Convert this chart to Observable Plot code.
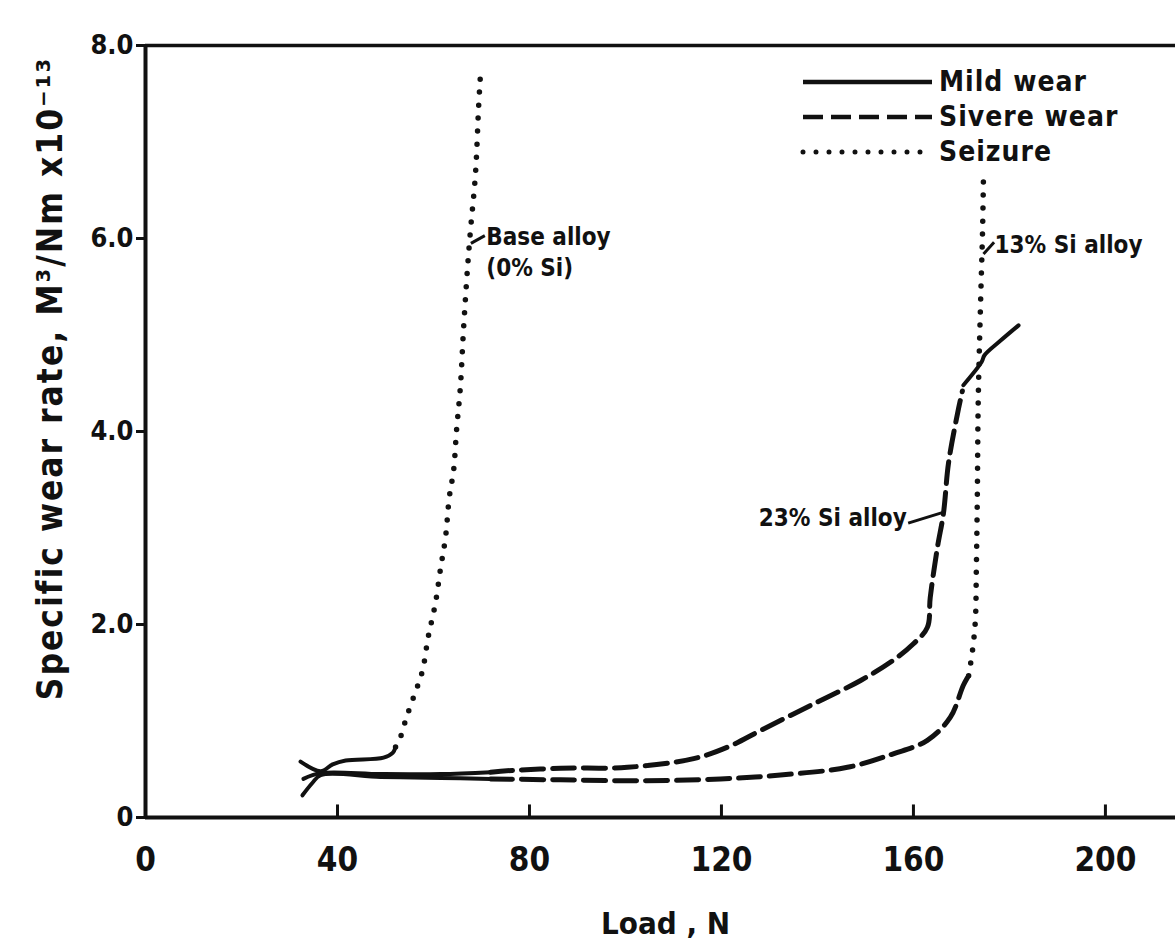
<!DOCTYPE html>
<html>
<head>
<meta charset="utf-8">
<script src="https://cdn.jsdelivr.net/npm/d3@7"></script>
<script src="https://cdn.jsdelivr.net/npm/@observablehq/plot@0.6"></script>
<style>
  html, body { margin: 0; padding: 0; background: #fff; }
  #wrap { position: relative; width: 1175px; height: 944px; }
  #legend { position: absolute; left: 800px; top: 64px; font-family: "DejaVu Sans Condensed", "DejaVu Sans", sans-serif; font-weight: bold; font-stretch: condensed; font-size: 28px; color: #111; letter-spacing: 1px; }
  #legend .row { display: flex; align-items: center; height: 35px; }
  #legend svg { margin-right: 4px; }
</style>
</head>
<body>
<div id="wrap"></div>
<script>
// ---- axis ticks ----
const xTicks = [0, 40, 80, 120, 160, 200];
const yTicks = [0, 2, 4, 6, 8];

// ---- Base alloy (0% Si) : [load N, wear rate x1e-13] ----
const baseMild = [[32.3,0.58],[36.5,0.48],[39.0,0.55],[41.7,0.59],[49.6,0.62],[51.5,0.67],[52.1,0.73]];
const baseSeizure = [[52.1,0.73],[53.1,0.83],[54.2,1.01],[55.8,1.24],[57.7,1.52],[58.9,1.87],[60.4,2.22],[61.5,2.59],[62.5,2.90],[63.3,3.32],[64.2,3.60],[64.8,4.01],[65.6,4.46],[66.25,5.05],[67.1,5.70],[67.7,6.08],[68.75,6.67],[69.4,7.36],[69.8,7.71]];

// ---- 23% Si alloy ----
const si23MildLow = [[32.9,0.40],[36.5,0.46],[49.0,0.45],[61.5,0.45],[71.9,0.47]];
const si23Severe = [[71.9,0.47],[74.0,0.48],[86.5,0.51],[100.4,0.52],[114.2,0.61],[121.3,0.73],[128.1,0.90],[138.5,1.16],[149.0,1.42],[155.8,1.63],[160.0,1.80],[162.9,1.97],[163.5,2.28],[165.0,2.80],[166.25,3.15],[167.3,3.67],[169.2,4.19],[170.2,4.42]];
const si23MildHigh = [[170.4,4.48],[174.2,4.72],[174.8,4.79],[178.1,4.94],[181.9,5.10]];

// ---- 13% Si alloy ----
const si13Mild = [[32.7,0.23],[34.8,0.36],[36.5,0.44],[49.0,0.42],[61.5,0.41],[71.9,0.40]];
const si13Severe = [[71.9,0.40],[86.5,0.39],[103.1,0.38],[119.8,0.40],[132.3,0.44],[146.25,0.52],[155.8,0.66],[162.9,0.80],[167.7,1.04],[170.4,1.37],[171.5,1.47]];
const si13Seizure = [[171.5,1.47],[172.3,1.73],[172.9,2.04],[173.1,2.56],[173.3,3.28],[173.5,4.32],[174.0,5.36],[174.4,6.08],[174.6,6.68]];

// ---- annotations ----
const labelsStart = [
  {x: 71.0, y: 6.01, text: "Base alloy"},
  {x: 71.0, y: 5.69, text: "(0% Si)"},
  {x: 176.9, y: 5.93, text: "13% Si alloy"}
];
const labelsEnd = [
  {x: 158.6, y: 3.10, text: "23% Si alloy"}
];
const leaders = [
  {x1: 67.8, y1: 5.95, x2: 70.7, y2: 6.03},
  {x1: 174.6, y1: 5.84, x2: 176.8, y2: 5.96},
  {x1: 158.9, y1: 3.05, x2: 166.0, y2: 3.16}
];
const legendItems = [
  {label: "Mild wear", dash: null},
  {label: "Sivere wear", dash: "20,8"},
  {label: "Seizure", dash: "0,13"}
];
const yTitle = "Specific wear rate, M³/Nm x10⁻¹³";
const xTitle = "Load , N";

const FONT = '"DejaVu Sans Condensed", "DejaVu Sans", sans-serif';
const solid = {stroke: "#111", strokeWidth: 4, curve: "catmull-rom", strokeLinecap: "round"};
const dashed = {stroke: "#111", strokeWidth: 5, strokeDasharray: "22,9", curve: "catmull-rom"};
const dotted = {stroke: "#111", strokeWidth: 5.5, strokeDasharray: "0,13", strokeLinecap: "round", curve: "catmull-rom"};
const X = d => d[0], Y = d => d[1];

const chart = Plot.plot({
  width: 1175,
  height: 944,
  marginLeft: 145,
  marginRight: 0,
  marginTop: 45,
  marginBottom: 127,
  x: {domain: [0, 214.6]},
  y: {domain: [0, 8]},
  style: {fontFamily: FONT, fontWeight: "bold", fontStretch: "condensed", background: "#fff", color: "#111", overflow: "visible"},
  marks: [
    Plot.ruleY([0], {stroke: "#111", strokeWidth: 4}),
    Plot.ruleY([8], {stroke: "#111", strokeWidth: 3.5}),
    Plot.ruleX([0], {stroke: "#111", strokeWidth: 4}),
    Plot.ruleX(xTicks.slice(1), {y1: 0, y2: 0.13, stroke: "#111", strokeWidth: 3}),
    Plot.axisY({ticks: yTicks, tickFormat: d => d === 0 ? "0" : d.toFixed(1), tickSize: 9, tickPadding: 3, fontSize: 27, strokeWidth: 3, label: null}),
    Plot.axisX({ticks: xTicks, tickSize: 0, tickPadding: 30, fontSize: 33, label: null}),
    Plot.text([xTitle], {frameAnchor: "bottom", dx: 5, dy: 116, fontSize: 31}),
    Plot.text([yTitle], {frameAnchor: "left", textAnchor: "middle", dx: -95, dy: -53, rotate: -90, fontSize: 35}),
    Plot.line(baseMild, {x: X, y: Y, ...solid}),
    Plot.line(baseSeizure, {x: X, y: Y, ...dotted}),
    Plot.line(si23MildLow, {x: X, y: Y, ...solid}),
    Plot.line(si23Severe, {x: X, y: Y, ...dashed}),
    Plot.line(si23MildHigh, {x: X, y: Y, ...solid}),
    Plot.line(si13Mild, {x: X, y: Y, ...solid}),
    Plot.line(si13Severe, {x: X, y: Y, ...dashed}),
    Plot.line(si13Seizure, {x: X, y: Y, ...dotted}),
    Plot.link(leaders, {x1: "x1", y1: "y1", x2: "x2", y2: "y2", stroke: "#111", strokeWidth: 3}),
    Plot.text(labelsStart, {x: "x", y: "y", text: "text", textAnchor: "start", fontSize: 24}),
    Plot.text(labelsEnd, {x: "x", y: "y", text: "text", textAnchor: "end", fontSize: 24})
  ]
});
const wrap = document.getElementById("wrap");
wrap.appendChild(chart);
// widen the rotated axis title slightly, as in the original lettering
d3.select(chart).selectAll("text").filter(function() { return this.textContent === yTitle; })
  .style("letter-spacing", "2px");

// legend
const legend = document.createElement("div");
legend.id = "legend";
for (const item of legendItems) {
  const row = document.createElement("div");
  row.className = "row";
  const sw = d3.create("svg").attr("width", 135).attr("height", 12);
  const ln = sw.append("line").attr("x1", 3).attr("x2", 132).attr("y1", 6).attr("y2", 6)
    .attr("stroke", "#111").attr("stroke-width", item.dash === "0,13" ? 5 : 4.5);
  if (item.dash) ln.attr("stroke-dasharray", item.dash);
  if (item.dash === "0,13") ln.attr("stroke-linecap", "round");
  row.appendChild(sw.node());
  const t = document.createElement("span");
  t.textContent = item.label;
  row.appendChild(t);
  legend.appendChild(row);
}
wrap.appendChild(legend);
</script>
</body>
</html>
